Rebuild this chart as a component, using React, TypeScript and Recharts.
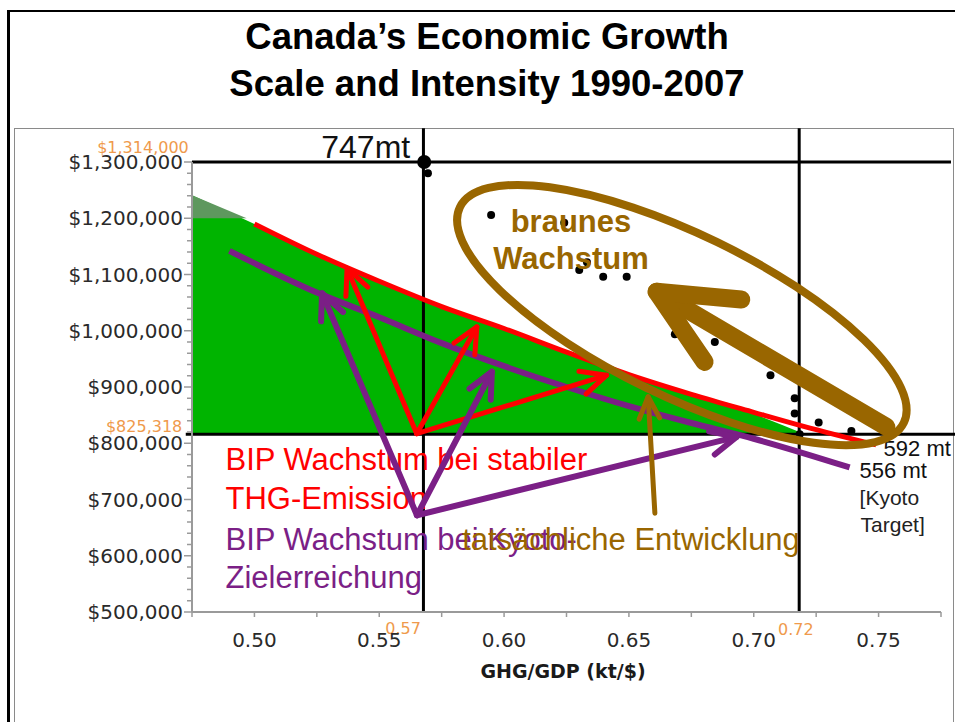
import React from "react";
import {
  Area,
  ComposedChart,
  Line,
  ReferenceDot,
  ReferenceLine,
  Scatter,
  XAxis,
  YAxis,
} from "recharts";

// x = GHG/GDP (kt/$), y = GDP ($)
const xTicks = [0.475, 0.5, 0.525, 0.55, 0.575, 0.6, 0.625, 0.65, 0.675, 0.7, 0.725, 0.75, 0.775];
const xTickLabels = ["", "0.50", "", "0.55", "", "0.60", "", "0.65", "", "0.70", "", "0.75", ""];
const yMajorTicks = [500000, 600000, 700000, 800000, 900000, 1000000, 1100000, 1200000, 1300000];
const yMinorStep = 20000;

// green zone under the 592 mt curve, down to the 1990 GDP line
const greenIntensity = [0.475, 0.5, 0.525, 0.55, 0.575, 0.6, 0.625, 0.65, 0.675, 0.7, 0.7205];
const greenGdp = [1241000, 1190000, 1136000, 1088000, 1043000, 1004000, 962000, 922000, 887000, 852000, 816000];
const baseGdp = 816000;
// darker corner above $1,200,000
const darkIntensity = [0.475, 0.4969];
const darkGdp = [1241000, 1200000];

// 592 mt curve (red)
const redIntensity = [0.5, 0.525, 0.55, 0.575, 0.6, 0.625, 0.65, 0.675, 0.7, 0.72, 0.749];
const redGdp = [1190000, 1136000, 1088000, 1043000, 1004000, 962000, 922000, 887000, 855000, 830000, 797000];

// 556 mt curve (purple, Kyoto target)
const purpleIntensity = [0.49, 0.525, 0.55, 0.575, 0.6, 0.625, 0.65, 0.675, 0.7, 0.7384];
const purpleGdp = [1142000, 1068000, 1024000, 978000, 937000, 900000, 866000, 836000, 808000, 757000];

// yearly observations 1990-2007
const dotIntensity = [0.7184, 0.7391, 0.726, 0.7164, 0.7164, 0.7067, 0.6844, 0.6684, 0.6491, 0.6397, 0.6301, 0.6332, 0.6241, 0.5948, 0.5695];
const dotGdp = [816000, 822000, 837000, 853000, 880000, 921000, 980000, 994000, 1096000, 1096000, 1108000, 1122000, 1192000, 1206000, 1280000];
const lastDot = { x: 0.568, y: 1300000 };

// reference lines
const topGdp = 1300000;
const vLines = [0.5677, 0.7182];

// annotation arrows: [tailX, tailY, tipX, tipY]
const redArrows = [
  [0.565, 817000, 0.5371, 1111000],
  [0.565, 817000, 0.5891, 1007000],
  [0.565, 817000, 0.6411, 921000],
];
const purpleArrows = [
  [0.5651, 672000, 0.5271, 1066600],
  [0.5651, 672000, 0.5951, 927100],
  [0.5651, 672000, 0.6931, 811400],
];
const brownThin = [0.6604, 675600, 0.6577, 882600];
const brownThick = [0.7531, 829200, 0.6611, 1069400];
const ellipseAxis = [0.5823, 1219600, 0.7601, 836300];

const ORANGE = "#ef9a4c";
const RED = "#ff0000";
const PURPLE = "#7b1f86";
const BROWN = "#996600";
const ARIAL = "'Liberation Sans', Arial, sans-serif";
const VERDANA = "'DejaVu Sans', Verdana, sans-serif";

type Note = { x: number; y: number; text: string; color: string; size: number; anchor?: string; bold?: boolean; font?: string };
const notes: Note[] = [
  { x: 0.5624, y: 1307300, text: "747mt", color: "#111", size: 32, anchor: "end" },
  { x: 0.4737, y: 1316800, text: "$1,314,000", color: ORANGE, size: 16, anchor: "end", font: VERDANA },
  { x: 0.4711, y: 819800, text: "$825,318", color: ORANGE, size: 16, anchor: "end", font: VERDANA },
  { x: 0.5524, y: 460700, text: "0.57", color: ORANGE, size: 16, font: VERDANA },
  { x: 0.7097, y: 458900, text: "0.72", color: ORANGE, size: 16, font: VERDANA },
  { x: 0.752, y: 777000, text: "592 mt", color: "#111", size: 22 },
  { x: 0.7424, y: 738000, text: "556 mt", color: "#111", size: 22 },
  { x: 0.7424, y: 689900, text: "[Kyoto", color: "#222", size: 21 },
  { x: 0.7428, y: 642400, text: "Target]", color: "#222", size: 21 },
  { x: 0.6268, y: 1176200, text: "braunes", color: BROWN, size: 31, anchor: "middle", bold: true },
  { x: 0.6268, y: 1109300, text: "Wachstum", color: BROWN, size: 31, anchor: "middle", bold: true },
  { x: 0.4884, y: 752100, text: "BIP Wachstum bei stabiler", color: RED, size: 31 },
  { x: 0.4884, y: 682700, text: "THG-Emission", color: RED, size: 31 },
  { x: 0.4884, y: 609800, text: "BIP Wachstum bei Kyoto-", color: PURPLE, size: 31 },
  { x: 0.4884, y: 542100, text: "Zielerreichung", color: PURPLE, size: 31 },
  { x: 0.5832, y: 609800, text: "tatsächliche Entwicklung", color: BROWN, size: 31 },
];

const zip = (xs: number[], ys: number[]) => xs.map((x, i) => ({ x, y: ys[i] }));
const band = (xs: number[], ys: number[], low: number) => xs.map((x, i) => ({ x, band: [low, ys[i]] }));

const yTicks: number[] = [];
for (let v = yMajorTicks[0]; v <= yMajorTicks[yMajorTicks.length - 1]; v += yMinorStep) yTicks.push(v);

const money = (v: number) => "$" + v.toLocaleString("en-US");

const YTick = (props: any) => {
  const { x, y, payload } = props;
  const major = yMajorTicks.includes(payload.value);
  return (
    <g>
      <line x1={x - (major ? 8 : 5)} x2={x} y1={y} y2={y} stroke="#9a9a9a" strokeWidth={1.5} />
      {major && (
        <text x={x - 9} y={y} dy={7} textAnchor="end" fill="#2a2a2a" fontSize={20} fontFamily={VERDANA}>
          {money(payload.value)}
        </text>
      )}
    </g>
  );
};

const XTick = (props: any) => {
  const { x, y, payload, index } = props;
  return (
    <g>
      <line x1={x} x2={x} y1={y} y2={y + 5} stroke="#9a9a9a" strokeWidth={1.5} />
      <text x={x} y={y + 35} textAnchor="middle" fill="#2a2a2a" fontSize={20} fontFamily={VERDANA}>
        {xTickLabels[index] ?? ""}
      </text>
    </g>
  );
};

const arrowShape = (color: string, width: number, head: number, spread = 0.44) => (p: any) => {
  const { x1, y1, x2, y2 } = p;
  const back = Math.atan2(y1 - y2, x1 - x2);
  const a = `${x2 + head * Math.cos(back + spread)},${y2 + head * Math.sin(back + spread)}`;
  const b = `${x2 + head * Math.cos(back - spread)},${y2 + head * Math.sin(back - spread)}`;
  return (
    <g fill="none" stroke={color} strokeWidth={width} strokeLinecap="round" strokeLinejoin="round">
      <line x1={x1} y1={y1} x2={x2} y2={y2} />
      <polyline points={`${a} ${x2},${y2} ${b}`} />
    </g>
  );
};

const ellipseShape = (ry: number) => (p: any) => {
  const { x1, y1, x2, y2 } = p;
  const cx = (x1 + x2) / 2;
  const cy = (y1 + y2) / 2;
  const rx = Math.hypot(x2 - x1, y2 - y1) / 2;
  const ang = (Math.atan2(y2 - y1, x2 - x1) * 180) / Math.PI;
  return (
    <ellipse cx={cx} cy={cy} rx={rx} ry={ry} transform={`rotate(${ang} ${cx} ${cy})`}
      fill="none" stroke={BROWN} strokeWidth={8} />
  );
};

const seg = (a: number[]) => [{ x: a[0], y: a[1] }, { x: a[2], y: a[3] }];

export default function App() {
  return (
    <div style={{ position: "absolute", left: 0, top: 0, width: 955, height: 722, background: "#fff", overflow: "hidden" }}>
      {/* slide frame */}
      <div style={{ position: "absolute", left: 7, top: 10, right: -10, bottom: -10, borderTop: "2px solid #000", borderLeft: "3px solid #000" }} />
      <div style={{ position: "absolute", left: 14, top: 128, width: 938, bottom: -10, border: "1.5px solid #8a8a8a" }} />

      <div style={{ position: "absolute", left: 187, width: 600, top: 13, textAlign: "center", fontFamily: ARIAL, fontWeight: "bold", fontSize: 36.5, lineHeight: "47px", color: "#000", whiteSpace: "nowrap" }}>
        <div>Canada’s Economic Growth</div>
        <div>Scale and Intensity 1990-2007</div>
      </div>

      <div style={{ position: "absolute", left: 0, top: 0 }}>
        <ComposedChart width={955} height={722} margin={{ top: 162, right: 14, bottom: 50, left: 72 }}>
          <XAxis
            type="number"
            dataKey="x"
            domain={[0.475, 0.775]}
            ticks={xTicks}
            interval={0}
            allowDataOverflow
            height={60}
            tickSize={0}
            tickMargin={0}
            tickLine={false}
            axisLine={{ stroke: "#9a9a9a", strokeWidth: 2 }}
            tick={<XTick />}
          />
          <YAxis
            type="number"
            dataKey="y"
            domain={[500000, 1300000]}
            ticks={yTicks}
            interval={0}
            allowDataOverflow
            width={120}
            tickSize={0}
            tickMargin={0}
            tickLine={false}
            axisLine={{ stroke: "#9a9a9a", strokeWidth: 2 }}
            tick={<YTick />}
          />

          <Area data={band(greenIntensity, greenGdp, baseGdp)} dataKey="band" type="monotone"
            stroke="none" fill="#00b400" fillOpacity={1} isAnimationActive={false} />
          <Area data={band(darkIntensity, darkGdp, 1200000)} dataKey="band" type="linear"
            stroke="none" fill="#5e985e" fillOpacity={1} isAnimationActive={false} />

          <ReferenceLine segment={[{ x: 0.475, y: topGdp }, { x: 0.779, y: topGdp }]} stroke="#000" strokeWidth={3} ifOverflow="visible" zIndex={350} />
          <ReferenceLine segment={[{ x: 0.4725, y: baseGdp }, { x: 0.781, y: baseGdp }]} stroke="#000" strokeWidth={3} ifOverflow="visible" zIndex={350} />
          {vLines.map((v) => (
            <ReferenceLine key={v} segment={[{ x: v, y: 500000 }, { x: v, y: 1360000 }]} stroke="#000" strokeWidth={3} ifOverflow="visible" zIndex={350} />
          ))}

          <Line data={zip(redIntensity, redGdp)} dataKey="y" type="monotone" stroke={RED} strokeWidth={5}
            dot={false} isAnimationActive={false} />
          <Line data={zip(purpleIntensity, purpleGdp)} dataKey="y" type="monotone" stroke={PURPLE} strokeWidth={6}
            dot={false} isAnimationActive={false} />

          <Scatter data={zip(dotIntensity, dotGdp)} fill="#000" isAnimationActive={false}
            shape={(p: any) => <circle cx={p.cx} cy={p.cy} r={4} fill="#000" />} />
          {/* 2007 point sits on the top edge, so it is drawn unclipped */}
          <ReferenceDot x={lastDot.x} y={lastDot.y} r={7} fill="#000" stroke="none" ifOverflow="visible" zIndex={650} />

          {notes.map((n) => (
            <ReferenceDot key={n.text} x={n.x} y={n.y} r={0} ifOverflow="visible" zIndex={700}
              shape={(p: any) => (
                <text x={p.cx} y={p.cy} fill={n.color} fontSize={n.size} fontFamily={n.font ?? ARIAL}
                  fontWeight={n.bold ? "bold" : "normal"} textAnchor={n.anchor ?? "start"}>
                  {n.text}
                </text>
              )} />
          ))}

          {redArrows.map((a, i) => (
            <ReferenceLine key={"r" + i} segment={seg(a)} ifOverflow="visible" zIndex={800} shape={arrowShape(RED, 5, 28)} />
          ))}
          {purpleArrows.map((a, i) => (
            <ReferenceLine key={"p" + i} segment={seg(a)} ifOverflow="visible" zIndex={800} shape={arrowShape(PURPLE, 6, 28)} />
          ))}
          <ReferenceLine segment={seg(brownThin)} ifOverflow="visible" zIndex={800} shape={arrowShape(BROWN, 5, 24)} />
          <ReferenceLine segment={seg(brownThick)} ifOverflow="visible" zIndex={800} shape={arrowShape(BROWN, 18, 85)} />
          <ReferenceLine segment={seg(ellipseAxis)} ifOverflow="visible" zIndex={900} shape={ellipseShape(81)} />
        </ComposedChart>
      </div>

      <div style={{ position: "absolute", left: 413, width: 300, top: 660, textAlign: "center", fontFamily: VERDANA, fontWeight: "bold", fontSize: 19, lineHeight: "22px", color: "#1a1a1a" }}>
        GHG/GDP (kt/$)
      </div>
    </div>
  );
}
